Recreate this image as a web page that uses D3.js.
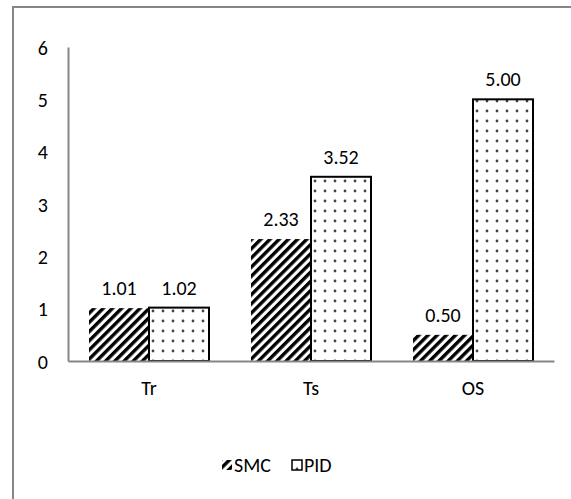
<!DOCTYPE html>
<html>
<head>
<meta charset="utf-8">
<script src="https://cdn.jsdelivr.net/npm/d3@7"></script>
<style>
  body { margin: 0; background: #fff; }
  text { font-family: Carlito, Lato, "Open Sans", sans-serif; fill: #000; }
</style>
</head>
<body>
<svg id="drawing_region"></svg>
<script>
const categories = ['Tr', 'Ts', 'OS'];
const series = ['SMC', 'PID'];
const smcValues = [1.01, 2.33, 0.50];
const pidValues = [1.02, 3.52, 5.00];
const yTicks = [0, 1, 2, 3, 4, 5, 6];

const width = 571, height = 499;
const margin = {top: 47, left: 68, right: 17, bottom: 138};
const fontSize = 20;

const svg = d3.select('#drawing_region')
    .attr('width', width)
    .attr('height', height);

// patterns
const defs = svg.append('defs');
const hatch = defs.append('pattern')
    .attr('id', 'hatch')
    .attr('patternUnits', 'userSpaceOnUse')
    .attr('width', 6.5).attr('height', 6.5)
    .attr('patternTransform', 'rotate(45)');
hatch.append('rect').attr('width', 6.5).attr('height', 6.5).attr('fill', '#fff');
hatch.append('rect').attr('width', 3.4).attr('height', 6.5).attr('fill', '#000');

const dots = defs.append('pattern')
    .attr('id', 'dots')
    .attr('patternUnits', 'userSpaceOnUse')
    .attr('width', 10).attr('height', 10);
dots.append('rect').attr('width', 10).attr('height', 10).attr('fill', '#fff');
dots.append('circle').attr('cx', 5).attr('cy', 4).attr('r', 1.4).attr('fill', '#444');

// outer frame
svg.append('path')
    .attr('d', `M13,${height} L13,7 L${width},7`)
    .attr('fill', 'none')
    .attr('stroke', '#868686')
    .attr('stroke-width', 2);

const innerW = width - margin.left - margin.right;
const innerH = height - margin.top - margin.bottom;
const chart = svg.append('g')
    .attr('transform', `translate(${margin.left}, ${margin.top})`);

const xscale = d3.scaleBand()
    .domain(categories)
    .range([0, innerW])
    .paddingInner(0)
    .paddingOuter(0);
const xsub = d3.scaleBand()
    .domain(series)
    .range([xscale.bandwidth() / 2 - 60, xscale.bandwidth() / 2 + 60]);
const yscale = d3.scaleLinear()
    .domain([0, 6])
    .range([innerH, 0]);

// y axis
const yaxis = d3.axisLeft(yscale).tickValues(yTicks).tickFormat(d3.format('d')).tickSize(0).tickPadding(20);
const ygroup = chart.append('g').call(yaxis);
ygroup.attr('font-size', fontSize).attr('font-family', null);
ygroup.select('.domain').attr('stroke', '#868686').attr('stroke-width', 2);
ygroup.selectAll('text').attr('fill', '#000').attr('dy', '0.35em');

const rows = categories.map((c, i) => ({cat: c, values: [
    {s: 'SMC', v: smcValues[i]}, {s: 'PID', v: pidValues[i]}]}));

const groups = chart.selectAll('.grp').data(rows).enter()
    .append('g')
    .attr('transform', d => `translate(${xscale(d.cat)}, 0)`);

groups.selectAll('rect').data(d => d.values).enter()
    .append('rect')
    .attr('x', d => xsub(d.s))
    .attr('y', d => yscale(d.v))
    .attr('width', xsub.bandwidth())
    .attr('height', d => yscale(0) - yscale(d.v))
    .attr('fill', d => d.s === 'SMC' ? 'url(#hatch)' : 'url(#dots)')
    .attr('stroke', d => d.s === 'SMC' ? 'none' : '#000')
    .attr('stroke-width', 2);

groups.selectAll('.lbl').data(d => d.values).enter()
    .append('text')
    .attr('x', d => xsub(d.s) + xsub.bandwidth() / 2)
    .attr('y', d => yscale(d.v) - 13)
    .attr('text-anchor', 'middle')
    .attr('font-size', fontSize)
    .text(d => d.v.toFixed(2));

// x axis (baseline + category labels)
const xaxis = d3.axisBottom(xscale).tickSize(0).tickPadding(20).tickSizeOuter(0);
const xgroup = chart.append('g')
    .attr('transform', `translate(0, ${innerH})`)
    .call(xaxis);
xgroup.attr('font-size', fontSize).attr('font-family', null);
xgroup.select('.domain').attr('stroke', '#868686').attr('stroke-width', 2);
xgroup.selectAll('text').attr('fill', '#000');

// legend
const legend = svg.append('g').attr('transform', 'translate(222, 465)');
const legendItems = [
    {s: 'SMC', x: 0, fill: 'url(#hatch)', stroke: 'none'},
    {s: 'PID', x: 70, fill: 'url(#dots)', stroke: '#000'}
];
legendItems.forEach(d => {
    legend.append('rect')
        .attr('x', d.x).attr('y', -5)
        .attr('width', 10).attr('height', 10)
        .attr('fill', d.fill)
        .attr('stroke', d.stroke)
        .attr('stroke-width', 1.5);
    legend.append('text')
        .attr('x', d.x + 12).attr('y', 7)
        .attr('font-size', fontSize)
        .text(d.s);
});
</script>
</body>
</html>
